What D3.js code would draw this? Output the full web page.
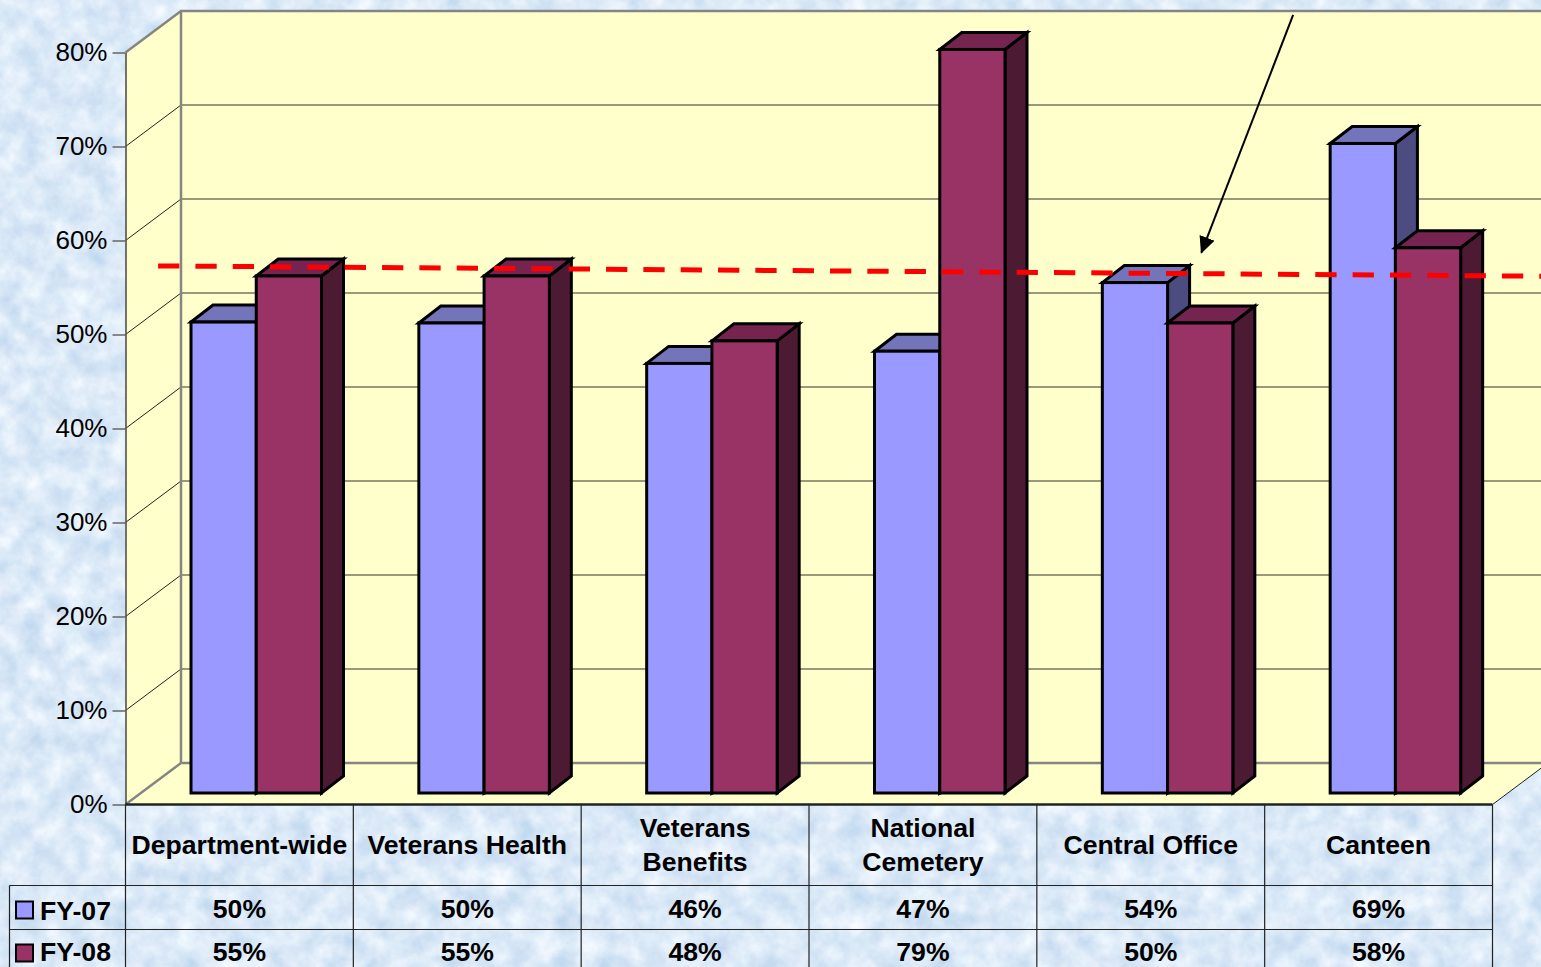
<!DOCTYPE html>
<html>
<head>
<meta charset="utf-8">
<style>
  html, body { margin: 0; padding: 0; overflow: hidden; }
  svg { display: block; font-family: "Liberation Sans", Arial, sans-serif; }
</style>
<script src="https://cdn.jsdelivr.net/npm/d3@7"></script>
</head>
<body>
<div id="chart"></div>
<script>
// data
var categories = [['Department-wide'], ['Veterans Health'], ['Veterans', 'Benefits'], ['National', 'Cemetery'], ['Central Office'], ['Canteen']];
var seriesNames = ['FY-07', 'FY-08'];
var fy07 = [50.1, 50, 45.7, 47, 54.3, 69.1];
var fy08 = [55, 55, 48.1, 79.1, 50, 58];
var yTicks = [0, 10, 20, 30, 40, 50, 60, 70, 80];
// dashed target line and arrow: [category position, percent]
var targetLine = [[0.143, 57.3], [6.214, 56.2]];
var arrowLine = [[5.125, 84], [4.722, 58.7]];

var width = 1541;
var height = 967;
var left = 125.5;
var right = 1492.5;
var y0 = 804.5;
var y80 = 52.5;
var depthX = 55.5;   // wall depth
var depthY = 41.5;
var barDepthX = 22;  // bar depth
var barDepthY = 17;
var floorY = 11.5;   // bars stand this far behind the front edge
var headerBottom = 885.5;
var rowBottom = 929.5;
var boldSize = 26.6;

var colors = [
  { front: '#9999ff', top: '#7474bb', side: '#4c4c80' },
  { front: '#993366', top: '#74244e', side: '#4c1a33' }
];

var x = d3.scaleBand().domain(d3.range(categories.length)).range([left, right]);
var xInner = d3.scaleBand().domain([0, 1]).range([65.5, 196]);
var xLine = d3.scaleLinear().domain([0, categories.length]).range([left, right]);
var y = d3.scaleLinear().domain([0, 80]).range([y0, y80]);

var svg = d3.select('#chart').append('svg')
  .attr('width', width)
  .attr('height', height);

var defs = svg.append('defs');

// mottled blue paper background
var paper = defs.append('filter').attr('id', 'paper')
  .attr('x', 0).attr('y', 0).attr('width', '100%').attr('height', '100%')
  .attr('color-interpolation-filters', 'sRGB');
paper.append('feTurbulence')
  .attr('type', 'fractalNoise')
  .attr('baseFrequency', 0.045)
  .attr('numOctaves', 4)
  .attr('seed', 7);
paper.append('feColorMatrix')
  .attr('type', 'matrix')
  .attr('values', '0.26 0.08 0 0 0.69  0.18 0.03 0 0 0.81  0.09 0.02 0 0 0.915  0 0 0 0 1');

defs.append('marker')
  .attr('id', 'arrow')
  .attr('markerUnits', 'userSpaceOnUse')
  .attr('markerWidth', 20)
  .attr('markerHeight', 18)
  .attr('refX', 16)
  .attr('refY', 8)
  .attr('orient', 'auto')
  .append('path')
  .attr('d', 'M0,0 L17,8 L0,16 z')
  .attr('fill', '#000');

svg.append('rect')
  .attr('width', width)
  .attr('height', height)
  .attr('filter', 'url(#paper)');

// walls and floor
var backLeft = left + depthX;
var wallRight = width + 10;

svg.append('path')
  .attr('fill', '#ffffcc')
  .attr('d', 'M' + left + ',' + y0 + 'L' + left + ',' + y80 +
    'L' + backLeft + ',' + (y80 - depthY) + 'L' + wallRight + ',' + (y80 - depthY) +
    'L' + wallRight + ',' + (y0 - depthY) + 'L' + (right + depthX) + ',' + (y0 - depthY) +
    'L' + right + ',' + y0 + 'z');

// grid lines
var grid = svg.append('g');
grid.selectAll('line.back')
  .data(yTicks.slice(1, -1))
  .enter().append('line')
  .attr('class', 'back')
  .attr('x1', backLeft).attr('x2', wallRight)
  .attr('y1', function (d) { return y(d) - depthY; })
  .attr('y2', function (d) { return y(d) - depthY; })
  .attr('stroke', '#77775f')
  .attr('stroke-width', 1.5);
grid.selectAll('line.side')
  .data(yTicks.slice(1, -1))
  .enter().append('line')
  .attr('class', 'side')
  .attr('x1', left).attr('x2', backLeft)
  .attr('y1', function (d) { return y(d); })
  .attr('y2', function (d) { return y(d) - depthY; })
  .attr('stroke', '#222')
  .attr('stroke-width', 1);

// wall edges
var edges = svg.append('g')
  .attr('fill', 'none')
  .attr('stroke', '#858585')
  .attr('stroke-width', 2.5);
edges.append('path')
  .attr('d', 'M' + left + ',' + y80 + 'L' + backLeft + ',' + (y80 - depthY) + 'L' + wallRight + ',' + (y80 - depthY));
edges.append('path')
  .attr('d', 'M' + backLeft + ',' + (y80 - depthY) + 'L' + backLeft + ',' + (y0 - depthY));
edges.append('path')
  .attr('d', 'M' + left + ',' + y0 + 'L' + backLeft + ',' + (y0 - depthY) + 'L' + wallRight + ',' + (y0 - depthY));
svg.append('line')
  .attr('x1', right).attr('x2', right + depthX)
  .attr('y1', y0).attr('y2', y0 - depthY)
  .attr('stroke', '#222')
  .attr('stroke-width', 1);

// bars
var series = [fy07, fy08];
var bars = svg.append('g')
  .attr('stroke', '#000')
  .attr('stroke-width', 3)
  .attr('stroke-linejoin', 'miter');

categories.forEach(function (c, i) {
  series.forEach(function (values, s) {
    var bx0 = x(i) + xInner(s);
    var bx1 = bx0 + xInner.bandwidth();
    var top = y(values[i]) - floorY;
    var bottom = y0 - floorY;
    var g = bars.append('g');
    g.append('path')
      .attr('fill', colors[s].side)
      .attr('d', 'M' + bx1 + ',' + top + 'L' + (bx1 + barDepthX) + ',' + (top - barDepthY) +
        'L' + (bx1 + barDepthX) + ',' + (bottom - barDepthY) + 'L' + bx1 + ',' + bottom + 'z');
    g.append('path')
      .attr('fill', colors[s].top)
      .attr('d', 'M' + bx0 + ',' + top + 'L' + (bx0 + barDepthX) + ',' + (top - barDepthY) +
        'L' + (bx1 + barDepthX) + ',' + (top - barDepthY) + 'L' + bx1 + ',' + top + 'z');
    g.append('rect')
      .attr('fill', colors[s].front)
      .attr('x', bx0)
      .attr('y', top)
      .attr('width', bx1 - bx0)
      .attr('height', bottom - top);
  });
});

// target line and arrow go on top of the bars
var line = d3.line()
  .x(function (d) { return xLine(d[0]); })
  .y(function (d) { return y(d[1]); });

svg.append('path')
  .attr('d', line(targetLine))
  .attr('fill', 'none')
  .attr('stroke', '#ff0000')
  .attr('stroke-width', 5)
  .attr('stroke-dasharray', '21.3,16.03');

svg.append('path')
  .attr('d', line(arrowLine))
  .attr('fill', 'none')
  .attr('stroke', '#000')
  .attr('stroke-width', 2)
  .attr('marker-end', 'url(#arrow)');

// y axis
var axis = svg.append('g')
  .attr('transform', 'translate(' + left + ',0)')
  .call(d3.axisLeft(y)
    .tickValues(yTicks)
    .tickSize(13)
    .tickSizeOuter(0)
    .tickPadding(5)
    .tickFormat(function (d) { return d + '%'; }));
axis.select('.domain').attr('stroke', '#444').attr('stroke-width', 1.5);
axis.selectAll('.tick line').attr('stroke', '#666').attr('stroke-width', 1.5);
axis.selectAll('.tick text')
  .attr('fill', '#000')
  .style('font-size', '26px')
  .style('font-family', '"Liberation Sans", Arial, sans-serif');

// data table under the chart
var table = svg.append('g')
  .attr('stroke', '#222')
  .attr('stroke-width', 1.2);
table.append('line').attr('x1', left).attr('x2', right).attr('y1', y0).attr('y2', y0).attr('stroke-width', 2.5);
table.append('line').attr('x1', 9.5).attr('x2', right).attr('y1', headerBottom).attr('y2', headerBottom);
table.append('line').attr('x1', 9.5).attr('x2', right).attr('y1', rowBottom).attr('y2', rowBottom);
table.append('line').attr('x1', 9.5).attr('x2', 9.5).attr('y1', headerBottom).attr('y2', height);
d3.range(categories.length + 1).forEach(function (i) {
  var lx = i < categories.length ? x(i) : right;
  table.append('line').attr('x1', lx).attr('x2', lx).attr('y1', y0).attr('y2', height);
});

var labels = svg.append('g')
  .attr('font-weight', 'bold')
  .attr('font-size', boldSize)
  .attr('text-anchor', 'middle')
  .attr('fill', '#000');

categories.forEach(function (c, i) {
  var cx = x(i) + x.bandwidth() / 2;
  c.forEach(function (t, k) {
    var cy = c.length === 1 ? 845 : 828 + k * 34;
    labels.append('text')
      .attr('x', cx)
      .attr('y', cy)
      .attr('dy', '0.35em')
      .text(t);
  });
  series.forEach(function (values, s) {
    labels.append('text')
      .attr('x', cx)
      .attr('y', s === 0 ? 909 : 952)
      .attr('dy', '0.35em')
      .text(Math.round(values[i]) + '%');
  });
});

// legend keys in the table rows
seriesNames.forEach(function (name, s) {
  var cy = s === 0 ? 910 : 953;
  svg.append('rect')
    .attr('x', 16)
    .attr('y', cy - 8.5)
    .attr('width', 17)
    .attr('height', 17)
    .attr('fill', colors[s].front)
    .attr('stroke', '#000')
    .attr('stroke-width', 2);
  svg.append('text')
    .attr('x', 40)
    .attr('y', s === 0 ? 911 : 952)
    .attr('dy', '0.35em')
    .attr('font-weight', 'bold')
    .attr('font-size', boldSize)
    .attr('fill', '#000')
    .text(name);
});
</script>
</body>
</html>
